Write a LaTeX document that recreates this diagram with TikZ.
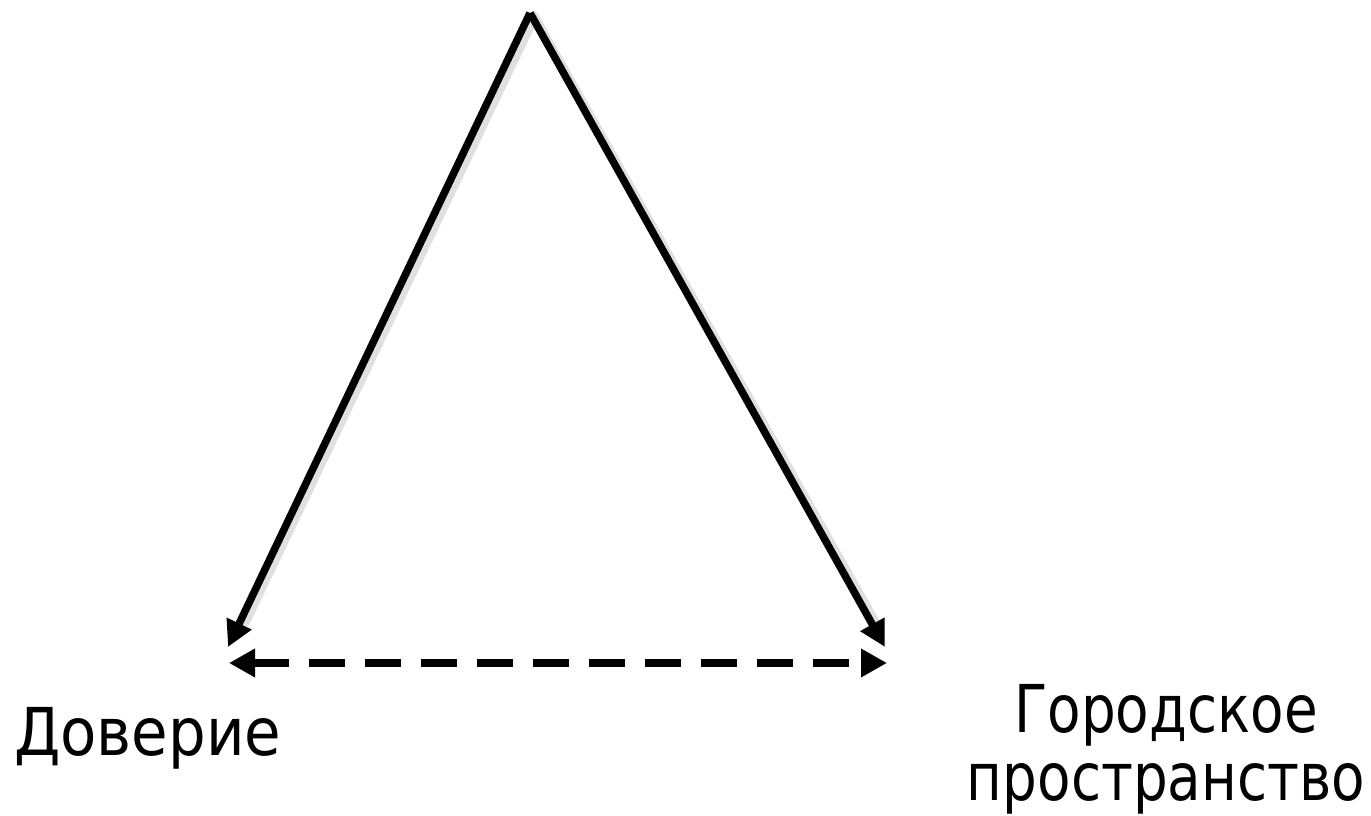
\documentclass[tikz,border=0pt]{standalone}
\usepackage{fontspec}
\usetikzlibrary{arrows.meta}
\newfontfamily\labelfont[FakeStretch=0.9]{DejaVu Sans}
\newfontfamily\narrowfont[FakeStretch=0.83]{DejaVu Sans}
\tikzset{
  edgearrow/.style={line width=7.5pt,-{Triangle[length=26pt,width=26pt]}},
  dasharrow/.style={line width=8.5pt,dash pattern=on 36pt off 20pt,{Triangle[length=26pt,width=27pt]}-{Triangle[length=26pt,width=27pt]}},
  shadowline/.style={line width=10pt,black!12,line cap=round},
  lbl/.style={font=\labelfont\fontsize{66pt}{68pt}\selectfont,inner sep=0pt,text=black},
  lblnarrow/.style={font=\narrowfont\fontsize{66pt}{68pt}\selectfont,inner sep=0pt,text=black}
}
\begin{document}
\begin{tikzpicture}[x=1pt,y=-1pt]
\useasboundingbox (0,0) rectangle (1371,816);
\coordinate (A) at (530,13);
\coordinate (L) at (228,647);
\coordinate (R) at (885,647);
\coordinate (DL) at (229,663);
\coordinate (DR) at (887,663);
\coordinate (As) at (534,17);
\coordinate (Ls) at (245,622);
\coordinate (Rs) at (878,628);
% soft shadows
\draw[shadowline] (As) -- (Ls);
\draw[shadowline] (As) -- (Rs);
% edges
\draw[edgearrow] (A) -- (L);
\draw[edgearrow] (A) -- (R);
\draw[dasharrow] (DL) -- (DR);
% labels
\node[lbl,anchor=base west] (trust) at (14,755) {Доверие};
\node[lblnarrow,anchor=base,align=center] (urban) at (1166,800) {Городское\\пространство};
\end{tikzpicture}
\end{document}
